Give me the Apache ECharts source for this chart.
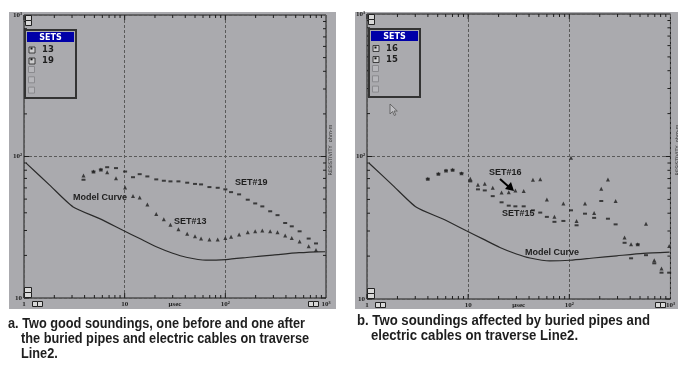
<!DOCTYPE html>
<html>
<head>
<meta charset="utf-8">
<script src="https://cdn.jsdelivr.net/npm/echarts@6/dist/echarts.min.js"></script>
<style>
  html, body { margin: 0; padding: 0; background: #fff; }
  #chart { width: 678px; height: 375px; }
</style>
</head>
<body>
<div id="chart"></div>
<script>
// ---- data ----
var xTickVals = [1, 10, 100, 1000];
var xTickText = ['1', '10', '10²', '10³'];
var yTickVals = [10, 100, 1000];
var yTickText = ['10', '10²', '10³'];

// model curve (same on both panels)
var modelX = [1.05, 1.81, 3.08, 5.64, 9.6, 14.1, 20.6, 30, 40.8, 64, 101.6, 173, 295, 540, 980];
var modelY = [89.7, 62.5, 44, 36.4, 30.1, 26.3, 23, 20.7, 19.4, 18.5, 18.7, 19.4, 20.1, 20.9, 21.3];

// panel a : sets 13 and 19
var timesA = [3.9, 4.9, 5.8, 6.7, 8.2, 10.1, 12.1, 14.1, 16.8, 20.6, 24.5, 28.5, 34.2, 41.8, 50,
  57.4, 69.5, 84, 100, 114, 137, 167, 198, 233, 279, 330, 393, 457, 547, 673, 796];
var set19 = [68.5, 78.3, 81, 84, 82.8, 78.3, 71.4, 75, 72.3, 68.9, 67.4, 66.7, 66.7, 65.3, 64,
  63.5, 60.8, 60.1, 58.6, 56, 54, 49.5, 46.6, 44.4, 41, 38.5, 33.9, 32.1, 29.6, 26.3, 24.3];
var set13 = [73.5, 78.3, 81, 77.4, 70.3, 60.5, 52.5, 51.4, 45.7, 39.3, 36, 33, 30.6, 28.4, 27.3,
  26.3, 25.9, 25.9, 26.5, 27.1, 28.1, 29.2, 29.6, 30, 29.6, 29.2, 27.7, 26.5, 25.1, 23.2, 21.8];

// panel b : sets 16 and 15
var timesB = [3.99, 5.08, 6.04, 7.02, 8.6, 10.5, 12.5, 14.6, 17.5, 21.4, 25.2, 29.3, 35.4, 43.7, 51.6,
  60, 71.3, 87.4, 104, 118, 143, 176, 207, 241, 287, 352, 408, 475, 573, 692, 816, 971];
var set16 = [69.8, 75.7, 79.8, 80.7, 76.4, 69.8, 63.4, 64.4, 60.4, 56, 56.2, 57.8, 57.3, 68.7, 69.3,
  50, 37.7, 46.7, 97.9, 35.3, 46.7, 40.2, 59.4, 69, 48.7, 27, 24.2, 24.2, 33.8, 18.7, 16.4, 23.5];
var set15 = [69.8, 75.7, 79.8, 80.7, 76.4, 66.9, 58.8, 57.8, 52.7, 47.7, 45.2, 44.7, 44.7, 41.9, 40.4,
  37.7, 34.8, 35.3, 41.9, 32.9, 39.7, 37.1, 48.7, 36.6, 33.4, 24.8, 19.3, 24.2, 20.3, 17.8, 15.3, 15.3];

var X_MIN = 1, X_MAX = 1000, Y_MIN = 10, Y_MAX = 1000;
var PANEL_BG = '#aaaaae';
var INK = '#1e1e1e';

function zip(a, b) {
  return a.map(function (v, i) { return [v, b[i]]; });
}

// log minor / major ticks along all four edges
var tickData = [];
(function () {
  var d, m;
  for (d = 1; d < X_MAX; d *= 10) {
    for (m = 1; m <= 9; m++) tickData.push([d * m, Y_MIN, 0, m === 1 ? 1 : 0]);
  }
  for (d = 10; d < Y_MAX; d *= 10) {
    for (m = 1; m <= 9; m++) tickData.push([X_MIN, d * m, 1, m === 1 ? 1 : 0]);
  }
})();

function renderTick(params, api) {
  var kind = api.value(2), len = api.value(3) ? 5 : 3;
  var st = { stroke: INK, lineWidth: 1 };
  var a, b;
  if (kind === 0) {
    a = api.coord([api.value(0), Y_MIN]); b = api.coord([api.value(0), Y_MAX]);
    return { type: 'group', children: [
      { type: 'line', shape: { x1: a[0], y1: a[1], x2: a[0], y2: a[1] - len }, style: st },
      { type: 'line', shape: { x1: b[0], y1: b[1], x2: b[0], y2: b[1] + len }, style: st }
    ] };
  }
  a = api.coord([X_MIN, api.value(1)]); b = api.coord([X_MAX, api.value(1)]);
  return { type: 'group', children: [
    { type: 'line', shape: { x1: a[0], y1: a[1], x2: a[0] + len, y2: a[1] }, style: st },
    { type: 'line', shape: { x1: b[0], y1: b[1], x2: b[0] - len, y2: b[1] }, style: st }
  ] };
}

var labelFont = { fontFamily: 'Liberation Serif', fontWeight: 'bold', fontSize: 7, color: INK };

function xAxisFor(gi) {
  return {
    type: 'log', logBase: 10, min: X_MIN, max: X_MAX, gridIndex: gi,
    name: 'μsec', nameLocation: 'middle', nameGap: 3, nameMoveOverlap: false,
    nameTextStyle: { fontFamily: 'Liberation Serif', fontWeight: 'bold', fontSize: 7, color: INK, verticalAlign: 'top' },
    axisLine: { show: false }, axisTick: { show: false },
    axisLabel: Object.assign({ margin: 3, showMinLabel: true, showMaxLabel: true,
      formatter: function (v) { var i = xTickVals.indexOf(Math.round(v)); return i < 0 ? '' : xTickText[i]; } }, labelFont),
    splitLine: { show: true, lineStyle: { color: '#5a5a5a', width: 1, type: [3, 2] } }
  };
}
function yAxisFor(gi) {
  return {
    type: 'log', logBase: 10, min: Y_MIN, max: Y_MAX, gridIndex: gi,
    axisLine: { show: false }, axisTick: { show: false },
    axisLabel: Object.assign({ margin: 2, showMinLabel: true, showMaxLabel: true,
      formatter: function (v) { var i = yTickVals.indexOf(Math.round(v)); return i < 0 ? '' : yTickText[i]; } }, labelFont),
    splitLine: { show: true, lineStyle: { color: '#5a5a5a', width: 1, type: [3, 2] } }
  };
}

// ---- decorations (window chrome of the sounding program) ----
var deco = [];
function btn(x, y, w, h) {
  deco.push({ type: 'rect', z: 30, shape: { x: x, y: y, width: w, height: h },
    style: { fill: '#d8d8d8', stroke: '#222', lineWidth: 1 } });
}
function txt(x, y, s, font, opt) {
  deco.push(Object.assign({ type: 'text', z: 30, x: x, y: y,
    style: { text: s, font: font, fill: INK, textAlign: 'left', textVerticalAlign: 'middle' } }, opt || {}));
}
function panel(P) {
  deco.push({ type: 'rect', z: -10, shape: { x: P.x, y: P.y, width: P.w, height: P.h }, style: { fill: PANEL_BG } });
  // SETS box
  deco.push({ type: 'rect', z: 10, shape: { x: P.lx, y: P.ly, width: 51, height: 68 },
    style: { fill: PANEL_BG, stroke: '#333', lineWidth: 2 } });
  deco.push({ type: 'rect', z: 11, shape: { x: P.lx + 2, y: P.ly + 2, width: 47, height: 10 }, style: { fill: '#0000a8' } });
  deco.push({ type: 'text', z: 12, x: P.lx + 25.5, y: P.ly + 7.5,
    style: { text: 'SETS', font: 'bold 8px "DejaVu Sans"', fill: '#fff', textAlign: 'center', textVerticalAlign: 'middle' } });
  for (var i = 0; i < 3; i++) {
    deco.push({ type: 'rect', z: 12, shape: { x: P.lx + 3.5, y: P.ly + 36.5 + i * 10.3, width: 6, height: 6 },
      style: { fill: '#b6b6ba', stroke: '#8a8a8e', lineWidth: 1 } });
  }
  for (var j = 0; j < 2; j++) {
    deco.push({ type: 'rect', z: 40, shape: { x: P.lx + 5.5, y: P.ly + 17.5 + j * 10.8, width: 2, height: 2 }, style: { fill: '#111' } });
  }
  // zoom buttons
  btn(P.gx + 1.5, P.gy + 0.5, 6, 5); btn(P.gx + 1.5, P.gy + 5.5, 6, 5);
  btn(P.gx + 0.5, P.gb - 10.5, 7, 5); btn(P.gx + 0.5, P.gb - 5.5, 7, 5);
  btn(P.gx + 8.5, P.gb + 3.5, 5, 5); btn(P.gx + 13.5, P.gb + 3.5, 5, 5);
  btn(P.gr - 17.5, P.gb + 3.5, 5, 5); btn(P.gr - 12.5, P.gb + 3.5, 5, 5);
  // right side axis title
  deco.push({ type: 'text', z: 30, x: P.gr + 4.5, y: 150, rotation: Math.PI / 2,
    style: { text: 'RESISTIVITY  ohm-m', font: '5px "DejaVu Sans"', fill: '#333', textAlign: 'center', textVerticalAlign: 'middle' } });
}
panel({ x: 9, y: 12, w: 327, h: 297, lx: 25, ly: 30, gx: 24, gy: 15, gr: 326, gb: 298 });
panel({ x: 355, y: 12, w: 323, h: 297, lx: 369, ly: 29, gx: 367, gy: 14, gr: 673, gb: 299 });

var noteFont = 'bold 9px "Liberation Sans", sans-serif';
txt(73, 198, 'Model Curve', noteFont);
txt(235, 183, 'SET#19', noteFont);
txt(174, 222, 'SET#13', noteFont);
txt(489, 173, 'SET#16', noteFont);
txt(502, 214, 'SET#15', noteFont);
txt(525, 253, 'Model Curve', noteFont);
// arrow SET#16
deco.push({ type: 'line', z: 30, shape: { x1: 500, y1: 179, x2: 509, y2: 187 }, style: { stroke: '#000', lineWidth: 2 } });
deco.push({ type: 'polygon', z: 30, shape: { points: [[514, 191], [505, 189], [511, 182]] }, style: { fill: '#000' } });
// mouse cursor
deco.push({ type: 'polygon', z: 30, shape: { points: [[390, 104], [390, 114], [392.5, 111.5], [394.3, 115.5], [395.8, 114.8], [394, 111], [397.3, 111]] },
  style: { fill: '#c0c0c4', stroke: '#555', lineWidth: 0.8 } });

// captions: a narrow bold face, squeezed to the original width
var capFont = 'bold 14px "Liberation Sans", sans-serif';
var capA = ['a. Two good soundings, one before and one after', 'the buried pipes and electric cables on traverse', 'Line2.'];
var capB = ['b. Two soundings affected by buried pipes and', 'electric cables on traverse Line2.'];
var mctx = document.createElement('canvas').getContext('2d');
mctx.font = capFont;
var sqA = 297 / mctx.measureText(capA[0]).width;
var sqB = 293 / mctx.measureText(capB[0]).width;
txt(8, 324, capA[0], capFont, { scaleX: sqA });
txt(21, 339, capA[1], capFont, { scaleX: sqA });
txt(21, 354, capA[2], capFont, { scaleX: sqA });
txt(357, 321, capB[0], capFont, { scaleX: sqB });
txt(371, 336, capB[1], capFont, { scaleX: sqB });

function legendFor(names, left, top) {
  return {
    data: names.map(function (n) { return { name: n, icon: 'rect' }; }),
    orient: 'vertical', left: left, top: top, z: 20, selectedMode: false,
    itemWidth: 6, itemHeight: 6, itemGap: 2, padding: 0,
    itemStyle: { color: '#d4d4d4', borderColor: '#222', borderWidth: 1 },
    textStyle: { fontFamily: 'DejaVu Sans', fontWeight: 'bold', fontSize: 8.5, color: INK, padding: [0, 0, 0, 2] }
  };
}

var lineStyle = { color: '#2a2a2a', width: 1.2 };
var chart = echarts.init(document.getElementById('chart'));
chart.setOption({
  animation: false,
  backgroundColor: '#fff',
  grid: [
    { left: 24, top: 15, width: 302, height: 283, show: true, backgroundColor: 'transparent', borderColor: INK, borderWidth: 1 },
    { left: 367, top: 14, width: 306, height: 285, show: true, backgroundColor: 'transparent', borderColor: INK, borderWidth: 1 }
  ],
  xAxis: [xAxisFor(0), xAxisFor(1)],
  yAxis: [yAxisFor(0), yAxisFor(1)],
  legend: [legendFor(['13', '19'], 28.5, 45.5), legendFor(['16', '15'], 372.5, 44)],
  graphic: { elements: deco },
  series: [
    { type: 'custom', xAxisIndex: 0, yAxisIndex: 0, silent: true, clip: false, renderItem: renderTick, data: tickData, z: 5 },
    { type: 'custom', xAxisIndex: 1, yAxisIndex: 1, silent: true, clip: false, renderItem: renderTick, data: tickData, z: 5 },
    { name: 'Model Curve', type: 'line', xAxisIndex: 0, yAxisIndex: 0, data: zip(modelX, modelY), showSymbol: false, smooth: 0.2, lineStyle: lineStyle },
    { name: '19', type: 'scatter', xAxisIndex: 0, yAxisIndex: 0, data: zip(timesA, set19), symbol: 'rect', symbolSize: [4, 2], itemStyle: { color: INK } },
    { name: '13', type: 'scatter', xAxisIndex: 0, yAxisIndex: 0, data: zip(timesA, set13), symbol: 'triangle', symbolSize: 4, itemStyle: { color: INK } },
    { name: 'Model Curve b', type: 'line', xAxisIndex: 1, yAxisIndex: 1, data: zip(modelX, modelY), showSymbol: false, smooth: 0.2, lineStyle: lineStyle },
    { name: '16', type: 'scatter', xAxisIndex: 1, yAxisIndex: 1, data: zip(timesB, set16), symbol: 'triangle', symbolSize: 4, itemStyle: { color: INK } },
    { name: '15', type: 'scatter', xAxisIndex: 1, yAxisIndex: 1, data: zip(timesB, set15), symbol: 'rect', symbolSize: [4, 2], itemStyle: { color: INK } }
  ]
});
</script>
</body>
</html>
